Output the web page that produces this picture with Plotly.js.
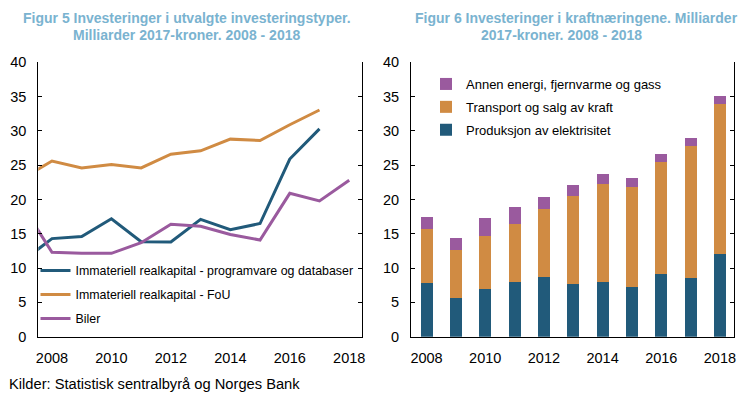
<!DOCTYPE html>
<html><head><meta charset="utf-8">
<script src="https://cdn.plot.ly/plotly-3.0.1.min.js"></script>
<style>html,body{margin:0;padding:0;background:#fff}</style>
</head><body><div id="chart" style="width:750px;height:398px"></div>
<script>
// Figur 5: line chart data (2007 point lies left of the visible range and is clipped)
const lineYears   = [2007, 2008, 2009, 2010, 2011, 2012, 2013, 2014, 2015, 2016, 2017, 2018];
const programvare = [11.0, 14.3, 14.6, 17.2, 13.85, 13.8, 17.1, 15.6, 16.5, 25.9, 30.3, null];
const fou         = [23.05, 25.6, 24.6, 25.1, 24.6, 26.6, 27.1, 28.8, 28.6, 30.9, 33.05, null];
const biler       = [19.2, 12.3, 12.15, 12.15, 13.7, 16.4, 16.1, 14.9, 14.1, 20.9, 19.8, 22.8];

// Figur 6: stacked bar data
const barYears   = [2008, 2009, 2010, 2011, 2012, 2013, 2014, 2015, 2016, 2017, 2018];
const produksjon = [7.9, 5.6, 7.0, 8.0, 8.7, 7.7, 8.0, 7.2, 9.1, 8.55, 12.0];
const transport  = [7.75, 7.1, 7.7, 8.5, 9.9, 12.85, 14.3, 14.6, 16.3, 19.25, 21.9];
const annen      = [1.75, 1.7, 2.65, 2.4, 1.8, 1.55, 1.4, 1.3, 1.3, 1.1, 1.2];

const names = {
  programvare: 'Immateriell realkapital - programvare og databaser',
  fou: 'Immateriell realkapital - FoU',
  biler: 'Biler',
  annen: 'Annen energi, fjernvarme og gass',
  transport: 'Transport og salg av kraft',
  produksjon: 'Produksjon av elektrisitet'
};

const BLUE = '#215A7A', ORANGE = '#D08B43', PURPLE = '#9A5A9E', TITLE = '#7AB3D0';
const FONT = 'Liberation Sans, Arial, sans-serif';
const W = 750, H = 398;
const px = x => x / W, py = y => (H - y) / H;

const traces = [
  {x: lineYears, y: programvare, name: names.programvare, type: 'scatter', mode: 'lines',
   line: {color: BLUE, width: 3}, xaxis: 'x', yaxis: 'y', legend: 'legend', legendgroup: 'a', legendrank: 1},
  {x: lineYears, y: fou, name: names.fou, type: 'scatter', mode: 'lines',
   line: {color: ORANGE, width: 3}, xaxis: 'x', yaxis: 'y', legend: 'legend', legendgroup: 'b', legendrank: 2},
  {x: lineYears, y: biler, name: names.biler, type: 'scatter', mode: 'lines',
   line: {color: PURPLE, width: 3}, xaxis: 'x', yaxis: 'y', legend: 'legend', legendgroup: 'c', legendrank: 3},
  {x: barYears, y: produksjon, name: names.produksjon, type: 'bar', width: 0.41,
   marker: {color: BLUE}, xaxis: 'x2', yaxis: 'y2', legend: 'legend2', legendgroup: 'd', legendrank: 3},
  {x: barYears, y: transport, name: names.transport, type: 'bar', width: 0.41,
   marker: {color: ORANGE}, xaxis: 'x2', yaxis: 'y2', legend: 'legend2', legendgroup: 'e', legendrank: 2},
  {x: barYears, y: annen, name: names.annen, type: 'bar', width: 0.41,
   marker: {color: PURPLE}, xaxis: 'x2', yaxis: 'y2', legend: 'legend2', legendgroup: 'f', legendrank: 1}
];

const tickFont = {family: FONT, size: 14.5, color: '#000'};
const yax = (anchor) => ({
  anchor: anchor, domain: [py(336.7), py(62.3)], range: [0, 40], dtick: 5,
  showgrid: false, zeroline: false, showline: true, linecolor: '#000', linewidth: 1,
  mirror: 'ticks', ticks: 'inside', ticklen: 4, tickcolor: '#000',
  tickfont: tickFont, ticklabelstandoff: 8, fixedrange: true
});
const xax = (anchor, dom, range) => ({
  anchor: anchor, domain: dom, range: range, dtick: 2, tick0: 2008,
  showgrid: false, zeroline: false, showline: true, linecolor: '#000', linewidth: 1,
  ticks: '', tickfont: tickFont, ticklabelstandoff: 8, fixedrange: true
});

const ann = (text, x, y) => ({
  text: text, x: px(x), y: py(y), xref: 'paper', yref: 'paper', showarrow: false,
  xanchor: 'center', yanchor: 'middle',
  font: {family: FONT, size: 14, color: TITLE, weight: 700}
});

const layout = {
  width: W, height: H, margin: {l: 0, r: 0, t: 0, b: 0},
  paper_bgcolor: '#fff', plot_bgcolor: '#fff', barmode: 'stack', bargap: 0,
  showlegend: true,
  xaxis: xax('y', [px(38.3), px(362.3)], [2007.54, 2018.44]),
  yaxis: yax('x'),
  xaxis2: xax('y2', [px(411), px(734.3)], [2007.47, 2018.49]),
  yaxis2: yax('x2'),
  legend: {x: px(35.5), y: py(256), xanchor: 'left', yanchor: 'top', bgcolor: 'rgba(0,0,0,0)',
           font: {family: FONT, size: 12.4, color: '#000'}, traceorder: 'grouped', tracegroupgap: 4.8,
           itemwidth: 30},
  legend2: {x: px(426), y: py(69), xanchor: 'left', yanchor: 'top', bgcolor: 'rgba(0,0,0,0)',
           font: {family: FONT, size: 13, color: '#000'}, traceorder: 'grouped', tracegroupgap: 3,
           itemwidth: 30},
  annotations: [
    ann('Figur 5 Investeringer i utvalgte investeringstyper.', 187, 17.5),
    ann('Milliarder 2017-kroner. 2008 - 2018', 186.5, 35),
    ann('Figur 6 Investeringer i kraftnæringene. Milliarder', 576, 17.5),
    ann('2017-kroner. 2008 - 2018', 561, 35),
    {text: 'Kilder: Statistisk sentralbyrå og Norges Bank', x: px(7), y: py(384), xref: 'paper', yref: 'paper',
     showarrow: false, xanchor: 'left', yanchor: 'middle', font: {family: FONT, size: 14.7, color: '#000'}}
  ]
};

Plotly.newPlot('chart', traces, layout, {displayModeBar: false, staticPlot: true});
</script></body></html>
